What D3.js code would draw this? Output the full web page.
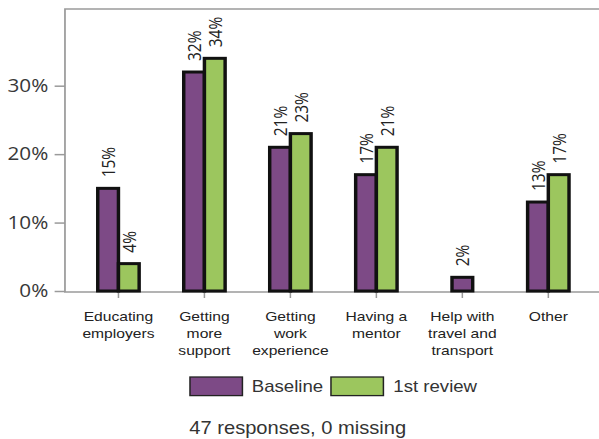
<!DOCTYPE html>
<html><head><meta charset="utf-8">
<script src="https://cdn.jsdelivr.net/npm/d3@7"></script>
<style>html,body{margin:0;padding:0;background:#fff;overflow:hidden}</style>
</head><body><svg id="c"></svg>
<script>
// ---- data ----
const categories = ["Educating\nemployers", "Getting\nmore\nsupport", "Getting\nwork\nexperience", "Having a\nmentor", "Help with\ntravel and\ntransport", "Other"];
const seriesNames = ["Baseline", "1st review"];
const baselineValues = [15, 32, 21, 17, 2, 13];
const reviewValues = [4, 34, 23, 21, null, 17];
const yTickValues = [0, 10, 20, 30];
const seriesColors = ["#7d4a86", "#9cc65e"];
const footerText = "47 responses, 0 missing";

// ---- layout ----
const K = 1.15, W = 599, H = 439, WU = W / K;
const svg = d3.select("#c").attr("width", W).attr("height", H)
  .attr("viewBox", `0 0 ${WU} ${H}`).attr("preserveAspectRatio", "none");

const plotLeft = 56.5, plotTop = 9, plotBottom = 292;
const x = d3.scaleBand().domain(categories).range([plotLeft, 523.3]).paddingInner(0).paddingOuter(0.122);
const y = d3.scaleLinear().domain([0, 30]).range([291, 85.7]);
const barW = 18;
const color = d3.scaleOrdinal().domain(seriesNames).range(seriesColors);

// frame
svg.append("path")
  .attr("d", `M${WU + 5},${plotTop}H${plotLeft}V${plotBottom}H${WU + 5}`)
  .attr("fill", "none").attr("stroke", "#9a9a9a").attr("stroke-width", 1.5);

// y axis
const yAxis = svg.append("g").attr("transform", `translate(${plotLeft},0)`)
  .call(d3.axisLeft(y).tickValues(yTickValues).tickFormat(d => d + "%").tickSize(9).tickSizeOuter(0).tickPadding(5.5));
yAxis.select(".domain").remove();
yAxis.selectAll(".tick line").attr("stroke", "#9a9a9a").attr("stroke-width", 1.5);
yAxis.selectAll(".tick text").attr("fill", "#383838").attr("font-family", "Open Sans").attr("font-size", 18);

// x axis
const xAxis = svg.append("g").attr("transform", `translate(0,${plotBottom})`)
  .call(d3.axisBottom(x).tickSize(6).tickSizeOuter(0).tickFormat(""));
xAxis.select(".domain").remove();
xAxis.selectAll(".tick line").attr("stroke", "#9a9a9a").attr("stroke-width", 1.3);

// category labels
categories.forEach(c => {
  const cx = x(c) + x.bandwidth() / 2;
  const t = svg.append("text").attr("x", cx).attr("y", 320.5).attr("text-anchor", "middle")
    .attr("font-family", "Liberation Sans, Arial").attr("font-size", 13.6).attr("fill", "#222");
  c.split("\n").forEach((line, i) => {
    t.append("tspan").attr("x", cx).attr("dy", i === 0 ? 0 : 17.5).text(line);
  });
});

// bars
const rows = categories.map((c, i) => ({ cat: c, vals: [baselineValues[i], reviewValues[i]] }));
rows.forEach(r => {
  const present = seriesNames.filter((s, j) => r.vals[j] !== null);
  const cx = x(r.cat) + x.bandwidth() / 2;
  const xs = d3.scaleBand().domain(present).range([-present.length * barW / 2, present.length * barW / 2]);
  present.forEach(s => {
    const v = r.vals[seriesNames.indexOf(s)];
    svg.append("rect")
      .attr("x", cx + xs(s)).attr("width", xs.bandwidth())
      .attr("y", y(v)).attr("height", y(0) - y(v))
      .attr("fill", color(s)).attr("stroke", "#111").attr("stroke-width", 3);
    const lx = cx + xs(s) + xs.bandwidth() / 2 + 0.6, ly = y(v) - 11;
    svg.append("text").attr("transform", `translate(${lx},${ly}) rotate(-90)`)
      .attr("dy", "0.35em").attr("text-anchor", "start")
      .attr("font-family", "Open Sans").attr("font-size", 15.5).attr("fill", "#222")
      .text(v + "%");
  });
});

// legend
const legendItems = [
  { name: seriesNames[0], bx: 165.2, tx: 218.9 },
  { name: seriesNames[1], bx: 287.8, tx: 342 }
];
legendItems.forEach(it => {
  svg.append("rect").attr("x", it.bx).attr("y", 377).attr("width", 45.6).attr("height", 18.6)
    .attr("fill", color(it.name)).attr("stroke", "#222").attr("stroke-width", 1.3);
  svg.append("text").attr("x", it.tx).attr("y", 392.5)
    .attr("font-family", "Liberation Sans, Arial").attr("font-size", 16.2).attr("fill", "#333")
    .text(it.name);
});

// footer
svg.append("text").attr("x", 164.6).attr("y", 434.5)
  .attr("font-family", "Liberation Sans, Arial").attr("font-size", 17.5).attr("fill", "#333")
  .text(footerText);
</script></body></html>
